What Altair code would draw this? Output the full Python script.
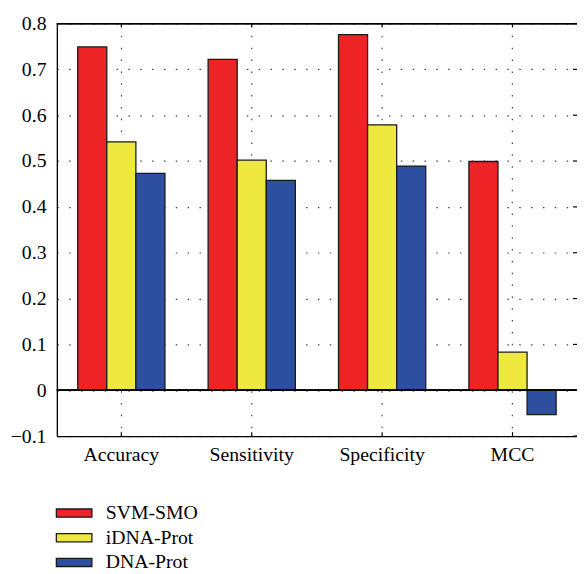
import altair as alt
import pandas as pd

metrics = ["Accuracy", "Sensitivity", "Specificity", "MCC"]
methods = ["SVM-SMO", "iDNA-Prot", "DNA-Prot"]
svm_smo = [0.749, 0.722, 0.776, 0.499]
idna_prot = [0.542, 0.502, 0.579, 0.083]
dna_prot = [0.473, 0.458, 0.489, -0.053]
y_ticks = [-0.1, 0.0, 0.1, 0.2, 0.3, 0.4, 0.5, 0.6, 0.7, 0.8]
colors = ["#EE2326", "#EFE93F", "#2E4EA0"]

rows = []
for name, vals in zip(methods, [svm_smo, idna_prot, dna_prot]):
    for m, v in zip(metrics, vals):
        rows.append({"metric": m, "method": name, "value": v})
df = pd.DataFrame(rows)
cat_df = pd.DataFrame({"metric": metrics})

W, H = 527, 418
FONT = "Liberation Serif"

xscale = alt.Scale(domain=metrics, paddingInner=0.331, paddingOuter=0.16)
yscale = alt.Scale(domain=[-0.1, 0.8], nice=False, zero=False)

x_enc = alt.X("metric:N", sort=metrics, scale=xscale, title=None,
              axis=alt.Axis(labelAngle=0, labelFont=FONT, labelFontSize=20, labelColor="black",
                            labelPadding=9, ticks=False, domainColor="black", domainWidth=1.3,
                            grid=True, gridColor="#444", gridDash=[1.5, 10.5], gridWidth=1.2,
                            bandPosition=0.5))
y_enc = alt.Y("value:Q", scale=yscale, title=None,
              axis=alt.Axis(values=y_ticks, labelExpr="datum.value == 0 ? '0' : format(datum.value, '.1f')",
                            labelFont=FONT, labelFontSize=20, labelColor="black", labelPadding=11,
                            ticks=False, domainColor="black", domainWidth=1.3,
                            grid=True, gridColor="#444", gridDash=[1.5, 10.5], gridWidth=1.2))

bars = alt.Chart(df).mark_bar(stroke="#1a1a1a", strokeWidth=1.3).encode(
    x=x_enc,
    xOffset=alt.XOffset("method:N", sort=methods, scale=alt.Scale(paddingInner=0, paddingOuter=0)),
    y=y_enc,
    color=alt.Color("method:N", sort=methods,
                    scale=alt.Scale(domain=methods, range=colors),
                    legend=alt.Legend(title=None, orient="none", legendX=7.5, legendY=486,
                                      symbolType="M-2,-0.46H2V0.46H-2Z", symbolSize=324,
                                      symbolStrokeColor="#1a1a1a", symbolStrokeWidth=1.3,
                                      labelFont=FONT, labelFontSize=20, labelColor="black",
                                      labelOffset=22, rowPadding=5, padding=0)),
)

baseline = alt.Chart(cat_df).mark_rule(color="black", strokeWidth=1.3).encode(
    y=alt.datum(0), x=alt.value(0), x2=alt.value(W))
top_border = alt.Chart(cat_df).mark_rule(color="black", strokeWidth=1.3).encode(
    y=alt.value(0), x=alt.value(0), x2=alt.value(W))
bottom_ticks = alt.Chart(cat_df).mark_rule(color="black", strokeWidth=1.2).encode(
    x=alt.X("metric:N", sort=metrics, scale=xscale, bandPosition=0.5),
    y=alt.value(H), y2=alt.value(H - 4))
top_ticks = alt.Chart(cat_df).mark_rule(color="black", strokeWidth=1.2).encode(
    x=alt.X("metric:N", sort=metrics, scale=xscale, bandPosition=0.5),
    y=alt.value(0), y2=alt.value(4))
tick_df = pd.DataFrame({"v": y_ticks})
right_ticks = alt.Chart(tick_df).mark_rule(color="black", strokeWidth=1.2).encode(
    y=alt.Y("v:Q", scale=yscale), x=alt.value(W - 4), x2=alt.value(W))

chart = alt.layer(bars, baseline, top_border, bottom_ticks, top_ticks, right_ticks).properties(
    width=W, height=H,
    autosize=alt.AutoSizeParams(type="none"),
    padding={"left": 49.5, "top": 12, "right": 0, "bottom": 136},
).configure_view(stroke=None).configure(background="white")

chart.save("out.html", embed_options={"renderer": "svg", "actions": False})
